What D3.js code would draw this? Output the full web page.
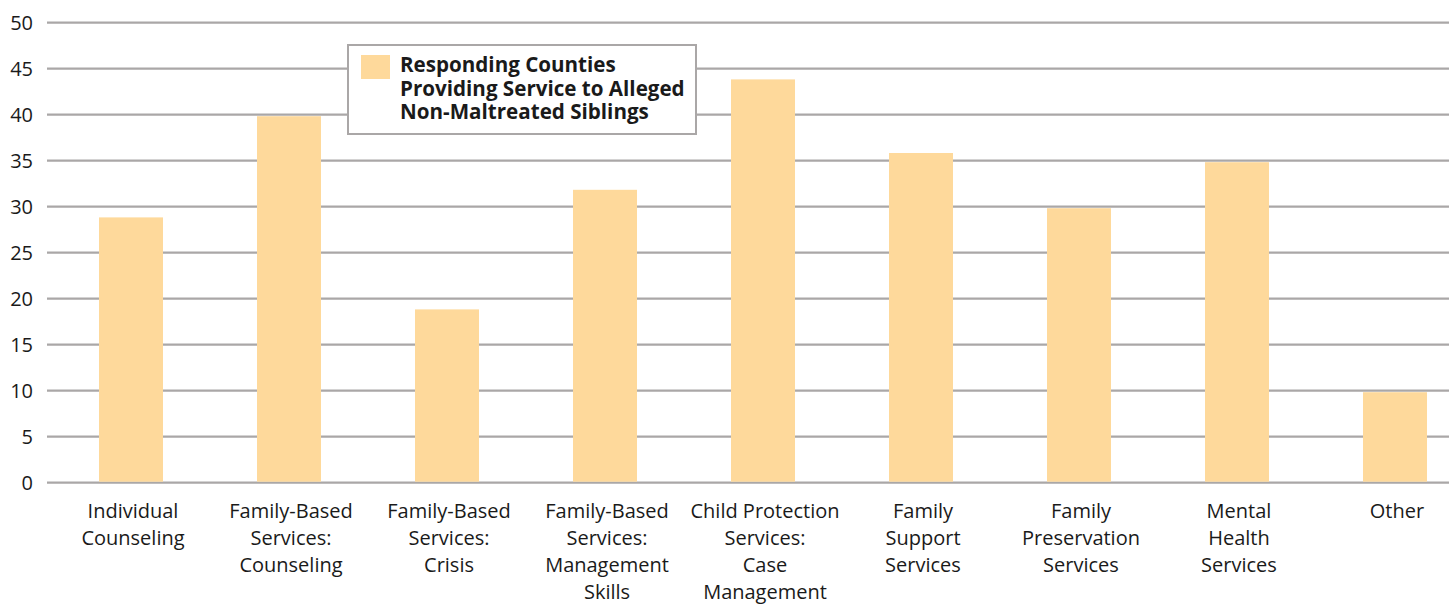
<!DOCTYPE html>
<html>
<head>
<meta charset="utf-8">
<script src="https://cdn.jsdelivr.net/npm/d3@7"></script>
<style>
  body { margin: 0; background: #fff; }
  text { font-family: "Open Sans", "Noto Sans", sans-serif; fill: #1a1a1a; }
</style>
</head>
<body>
<div id="viz"></div>
<script>
// categories (line breaks as on the chart)
const categories = [
  ["Individual", "Counseling"],
  ["Family-Based", "Services:", "Counseling"],
  ["Family-Based", "Services:", "Crisis"],
  ["Family-Based", "Services:", "Management", "Skills"],
  ["Child Protection", "Services:", "Case", "Management"],
  ["Family", "Support", "Services"],
  ["Family", "Preservation", "Services"],
  ["Mental", "Health", "Services"],
  ["Other"]
];
const values = [29, 40, 19, 32, 44, 36, 30, 35, 10];
const yTicks = [0, 5, 10, 15, 20, 25, 30, 35, 40, 45, 50];
const legendLines = ["Responding Counties", "Providing Service to Alleged", "Non-Maltreated Siblings"];

const width = 1454, height = 607;
const barColor = "#fed99b";
const gridColor = "#aaa7a7";

const svg = d3.select("#viz").append("svg")
  .attr("width", width)
  .attr("height", height);

const x = d3.scaleBand()
  .domain(d3.range(categories.length))
  .range([52, 1474])
  .paddingInner(0.595)
  .paddingOuter(0.2975);

const y = d3.scaleLinear()
  .domain([0, 50])
  .range([482.7, 22.7]);

// grid lines
svg.append("g")
  .selectAll("line")
  .data(yTicks)
  .enter()
  .append("line")
  .attr("x1", 47)
  .attr("x2", 1449)
  .attr("y1", d => y(d))
  .attr("y2", d => y(d))
  .attr("stroke", gridColor)
  .attr("stroke-width", 2.2);

// y labels
svg.append("g")
  .selectAll("text")
  .data(yTicks)
  .enter()
  .append("text")
  .attr("x", 33)
  .attr("y", d => y(d))
  .attr("dy", "0.35em")
  .attr("text-anchor", "end")
  .style("font-size", "20px")
  .text(d => d);

// bars (drawn a hair below the value line, as in the original)
svg.append("g")
  .selectAll("rect")
  .data(values)
  .enter()
  .append("rect")
  .attr("x", (d, i) => x(i))
  .attr("width", x.bandwidth())
  .attr("y", d => y(d) + 1.5)
  .attr("height", d => y(0) - y(d) - 2.5)
  .attr("fill", barColor);

// x labels
const xl = svg.append("g")
  .selectAll("text")
  .data(categories)
  .enter()
  .append("text")
  .attr("text-anchor", "middle")
  .style("font-size", "20px");

xl.selectAll("tspan")
  .data((d, i) => d.map(s => ({ s, i })))
  .enter()
  .append("tspan")
  .attr("x", d => x(d.i) + x.bandwidth() / 2 + 2)
  .attr("y", (d, j) => 518 + j * 27)
  .text(d => d.s);

// legend
const lg = svg.append("g");
lg.append("rect")
  .attr("x", 348)
  .attr("y", 45)
  .attr("width", 348)
  .attr("height", 89)
  .attr("fill", "#fff")
  .attr("stroke", gridColor)
  .attr("stroke-width", 2);
lg.append("rect")
  .attr("x", 361)
  .attr("y", 55)
  .attr("width", 29)
  .attr("height", 24)
  .attr("fill", barColor);
lg.append("text")
  .style("font-size", "20.6px")
  .style("font-weight", "bold")
  .selectAll("tspan")
  .data(legendLines)
  .enter()
  .append("tspan")
  .attr("x", 400)
  .attr("y", (d, i) => 72 + i * 23.5)
  .text(d => d);
</script>
</body>
</html>
